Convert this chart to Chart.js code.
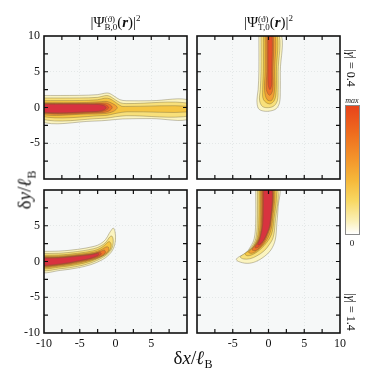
<!DOCTYPE html>
<html><head><meta charset="utf-8">
<script src="https://cdn.jsdelivr.net/npm/chart.js@4/dist/chart.umd.min.js"></script>
<style>
html,body{margin:0;padding:0;background:#fff;}
#wrap{position:relative;width:374px;height:374px;overflow:hidden;font-family:"Liberation Serif","DejaVu Serif",serif;color:#111;}
canvas{position:absolute;left:0;top:0;}
.t{position:absolute;white-space:nowrap;line-height:1;}
.st{display:inline-block;vertical-align:-3px;font-size:9px;line-height:8px;text-align:left;}
.st span{display:block;}
</style></head><body><div id="wrap">
<canvas id="c0" width="374" height="374" style="width:374px;height:374px"></canvas>
<canvas id="c1" width="374" height="374" style="width:374px;height:374px"></canvas>
<canvas id="c2" width="374" height="374" style="width:374px;height:374px"></canvas>
<canvas id="c3" width="374" height="374" style="width:374px;height:374px"></canvas>

<div class="t" style="left:44px;width:143px;top:14px;text-align:center;font-size:15px;">|Ψ<span class="st"><span>(ϑ)</span><span>B,0</span></span>(<b><i>r</i></b>)|<sup style="font-size:9px">2</sup></div>
<div class="t" style="left:197px;width:143px;top:14px;text-align:center;font-size:15px;">|Ψ<span class="st"><span>(ϑ)</span><span>T,0</span></span>(<b><i>r</i></b>)|<sup style="font-size:9px">2</sup></div>

<div class="t" style="left:193px;top:359px;transform:translate(-50%,-50%);font-size:19px;">δ<i>x</i>/<b><i>ℓ</i></b><sub style="font-size:12px">B</sub></div>
<div class="t" style="left:26px;top:190px;transform:translate(-50%,-50%) rotate(-90deg);font-size:19px;">δ<i>y</i>/<b><i>ℓ</i></b><sub style="font-size:12px">B</sub></div>

<div class="t" style="left:351px;top:68px;transform:translate(-50%,-50%) rotate(90deg);font-size:12px;">|<i>γ</i>| = 0.4</div>
<div class="t" style="left:351px;top:312px;transform:translate(-50%,-50%) rotate(90deg);font-size:12px;">|<i>γ</i>| = 1.4</div>

<div style="position:absolute;left:345px;top:105px;width:13px;height:128px;border:1px solid #8a8a8a;background:linear-gradient(to bottom,#e8431a 0%,#ee6a1e 20%,#f3922a 40%,#f6b83a 58%,#f8d862 74%,#fbf0b8 90%,#ffffff 100%);"></div>
<div class="t" style="left:352px;top:101px;transform:translate(-50%,-50%);font-size:8px;font-style:italic;">max</div>
<div class="t" style="left:352px;top:243px;transform:translate(-50%,-50%);font-size:9px;">0</div>
</div>
<script>
// ---- data ----
const axisRange = [-10, 10];
const majorTicks = [-10, -5, 0, 5, 10];
const minorTicks = [-7.5, -5, -2.5, 0, 2.5, 5, 7.5];
const levelColors = ['#fbf4c0', '#f8e07a', '#f5c542', '#f29f34', '#ed7428', '#e6502a', '#d8333f'];

// contour polygons [x, y] in units of l_B, outermost level first
const contoursTL = [
  [[-10.5,1.68],[-5,1.7],[-2.5,1.8],[-1.5,2.0],[-0.9,2.0],[-0.2,1.6],[0.6,1.1],[1.5,0.95],[5,0.95],[10.5,0.95],[10.5,-1.55],[5,-1.55],[1,-1.6],[-1,-1.78],[-3,-1.9],[-10.5,-1.9]],
  [[-10.5,1.33],[-5,1.34],[-2.5,1.42],[-1.5,1.65],[-0.9,1.62],[-0.2,1.2],[0.7,0.66],[1.5,0.55],[10.5,0.55],[10.5,-1.15],[1.5,-1.15],[0,-1.3],[-1.5,-1.5],[-10.5,-1.56]],
  [[-10.5,0.96],[-5,0.98],[-2.5,1.08],[-1.5,1.3],[-0.8,1.22],[-0.1,0.8],[0.8,0.2],[1.6,0.15],[10.5,0.15],[10.5,-0.6],[1.6,-0.6],[0.2,-0.8],[-1.5,-1.12],[-10.5,-1.2]],
  [[-10.5,0.68],[-4,0.7],[-2,0.82],[-1.2,0.85],[-0.4,0.55],[0.25,0.0],[-0.3,-0.55],[-1.5,-0.85],[-4,-0.92],[-10.5,-0.92]],
  [[-10.5,0.56],[-4,0.57],[-2,0.64],[-1.1,0.56],[-0.45,0.05],[-0.9,-0.48],[-2,-0.72],[-10.5,-0.76]],
  [[-10.5,0.51],[-3,0.5],[-1.6,0.46],[-0.95,0.0],[-1.5,-0.45],[-3,-0.64],[-10.5,-0.68]],
  [[-10.5,0.46],[-3,0.44],[-1.7,0.3],[-1.3,-0.05],[-1.8,-0.4],[-3,-0.58],[-10.5,-0.6]]
];
const contoursTR = [
  [[-1.35,10.5],[-1.35,5],[-1.45,2.5],[-1.62,1.0],[-1.4,-0.15],[-0.7,-0.5],[0.3,-0.48],[1.1,-0.15],[1.55,0.7],[1.65,2.5],[1.65,5],[1.65,10.5]],
  [[-1.05,10.5],[-1.05,5],[-1.15,2.5],[-1.25,1.0],[-0.85,0.15],[0,-0.02],[0.8,0.25],[1.25,1.0],[1.35,2.5],[1.35,5],[1.35,10.5]],
  [[-0.72,10.5],[-0.72,5],[-0.82,2.5],[-0.7,1.1],[0.15,0.5],[0.85,1.05],[1.08,2.5],[1.1,5],[1.1,10.5]],
  [[-0.47,10.5],[-0.47,5],[-0.55,2.4],[-0.2,1.1],[0.45,1.0],[0.82,2.2],[0.85,5],[0.85,10.5]],
  [[-0.23,10.5],[-0.23,5],[-0.3,2.5],[0.15,1.7],[0.58,2.4],[0.62,5],[0.62,10.5]],
  [[-0.08,10.5],[-0.08,5],[-0.05,3.2],[0.2,2.5],[0.45,3.2],[0.47,5],[0.47,10.5]]
];
const contoursBL = [
  [[-10.5,1.42],[-8,1.45],[-5.3,1.7],[-3,2.12],[-2.07,2.5],[-1.37,3.1],[-0.9,3.9],[-0.5,4.5],[-0.3,4.68],[-0.07,4.2],[0.0,3.0],[-0.3,1.8],[-0.9,0.95],[-1.84,0.25],[-3.47,-0.45],[-5.34,-0.9],[-7.67,-1.24],[-10.5,-1.4]],
  [[-10.5,1.12],[-8,1.15],[-5.3,1.4],[-3,1.8],[-2,2.2],[-1.3,2.75],[-0.8,3.45],[-0.5,3.55],[-0.32,3.0],[-0.45,1.95],[-0.95,1.2],[-1.85,0.52],[-3.45,-0.2],[-5.3,-0.68],[-7.6,-1.0],[-10.5,-1.12]],
  [[-10.5,0.88],[-8,0.9],[-5.3,1.15],[-3,1.52],[-2,1.92],[-1.35,2.45],[-0.9,2.78],[-0.62,2.45],[-0.7,1.75],[-1.15,1.2],[-2,0.65],[-3.4,0.05],[-5.3,-0.42],[-7.6,-0.76],[-10.5,-0.88]],
  [[-10.5,0.72],[-8,0.74],[-5.3,0.98],[-3,1.3],[-2,1.65],[-1.4,2.0],[-1.0,2.0],[-0.98,1.5],[-1.45,1.0],[-2.3,0.55],[-3.4,0.2],[-5.3,-0.26],[-7.6,-0.6],[-10.5,-0.72]],
  [[-10.5,0.6],[-8,0.62],[-5.3,0.86],[-3,1.15],[-2.1,1.42],[-1.55,1.58],[-1.42,1.22],[-2.0,0.76],[-3.3,0.32],[-5.3,-0.12],[-7.6,-0.48],[-10.5,-0.6]],
  [[-10.5,0.53],[-8,0.56],[-5.3,0.8],[-3.2,1.05],[-2.2,1.3],[-2.0,1.02],[-2.9,0.55],[-5.3,0.0],[-7.6,-0.4],[-10.5,-0.53]],
  [[-10.5,0.47],[-8,0.5],[-5.3,0.74],[-3.3,0.98],[-2.4,1.14],[-2.4,0.9],[-3.3,0.5],[-5.3,0.06],[-7.6,-0.33],[-10.5,-0.46]]
];
const contoursBR = [
  [[-1.8,10.5],[-1.8,5.3],[-2.0,3.2],[-2.5,2.1],[-3.2,1.15],[-4.1,0.68],[-4.5,0.3],[-4.2,0.0],[-3.0,-0.26],[-1.8,-0.02],[-0.6,0.68],[0.33,1.6],[0.94,3.0],[1.17,5.3],[1.36,7.7],[1.42,10.5]],
  [[-1.55,10.5],[-1.58,5.3],[-1.78,3.2],[-2.25,2.2],[-2.9,1.42],[-3.6,0.95],[-3.95,0.62],[-3.5,0.36],[-2.6,0.38],[-1.6,0.8],[-0.6,1.5],[0.1,2.35],[0.65,3.35],[0.92,5.3],[1.15,10.5]],
  [[-1.32,10.5],[-1.36,5.3],[-1.58,3.25],[-2.0,2.3],[-2.6,1.6],[-3.3,1.08],[-2.9,0.8],[-2.0,1.08],[-1.05,1.78],[-0.25,2.65],[0.38,3.7],[0.7,5.3],[0.92,10.5]],
  [[-1.12,10.5],[-1.16,5.3],[-1.4,3.35],[-1.82,2.45],[-2.4,1.72],[-2.8,1.3],[-2.3,1.15],[-1.45,1.65],[-0.55,2.55],[0.12,3.75],[0.5,5.3],[0.72,10.5]],
  [[-0.95,10.5],[-1.0,5.3],[-1.25,3.45],[-1.65,2.55],[-2.3,1.65],[-1.75,1.55],[-0.95,2.25],[-0.3,3.3],[0.32,5.3],[0.58,10.5]],
  [[-0.82,10.5],[-0.88,5.3],[-1.15,3.45],[-1.55,2.6],[-1.9,1.95],[-1.35,2.05],[-0.7,2.85],[-0.15,4.0],[0.26,5.3],[0.5,10.5]],
  [[-0.68,10.5],[-0.8,5.3],[-1.2,3.2],[-1.5,2.35],[-1.05,2.5],[-0.45,3.4],[0.2,5.3],[0.45,10.5]]
];

// visible tick labels per panel
const xLabelsBL = [-10, -5, 0, 5];
const xLabelsBR = [-5, 0, 5, 10];
const yLabelsTop = [-5, 0, 5, 10];
const yLabelsBottom = [-10, -5, 0, 5];

// ---- rendering ----
const panels = [
  {id:'c0', polys:contoursTL, area:[44,36,187,179], xl:[], yl:yLabelsTop},
  {id:'c1', polys:contoursTR, area:[197,36,340,179], xl:[], yl:[]},
  {id:'c2', polys:contoursBL, area:[44,190,187,333], xl:xLabelsBL, yl:yLabelsBottom},
  {id:'c3', polys:contoursBR, area:[197,190,340,333], xl:xLabelsBR, yl:[]}
];

const framePlugin = {
  id:'frame',
  beforeDraw(chart){
    const {ctx, chartArea:a} = chart;
    ctx.save(); ctx.fillStyle = '#f6f8f8';
    ctx.fillRect(a.left, a.top, a.right-a.left, a.bottom-a.top); ctx.restore();
  },
  afterDraw(chart){
    const {ctx, chartArea:a, scales:{x, y}} = chart;
    ctx.save(); ctx.strokeStyle = '#111'; ctx.lineWidth = 1.2; ctx.beginPath();
    minorTicks.forEach(v => {
      const px = x.getPixelForValue(v), py = y.getPixelForValue(v);
      ctx.moveTo(px, a.top); ctx.lineTo(px, a.top+4);
      ctx.moveTo(px, a.bottom); ctx.lineTo(px, a.bottom-4);
      ctx.moveTo(a.left, py); ctx.lineTo(a.left+4, py);
      ctx.moveTo(a.right, py); ctx.lineTo(a.right-4, py);
    });
    ctx.stroke();
    ctx.lineWidth = 1.6; ctx.strokeRect(a.left, a.top, a.right-a.left, a.bottom-a.top);
    ctx.restore();
  }
};

const YW = 30, XH = 20;
const tickFont = {family:'"Liberation Serif", serif', size:12};
const gridColor = c => (c.tick && Math.abs(c.tick.value) === 10) ? 'rgba(0,0,0,0)' : '#dfe3e3';

panels.forEach(p => {
  const [L, T, R, B] = p.area;
  const datasets = p.polys.map((poly, i) => ({
    data: poly.concat([poly[0]]).map(q => ({x:q[0], y:q[1]})),
    showLine: true, fill: 'shape',
    backgroundColor: levelColors[i],
    borderColor: 'rgba(95,85,55,0.5)', borderWidth: 0.7,
    pointRadius: 0, tension: 0.35, order: 20 - i, clip: 0
  }));
  new Chart(document.getElementById(p.id), {
    type: 'scatter',
    data: {datasets},
    plugins: [framePlugin],
    options: {
      responsive: false, animation: false, events: [],
      layout: {padding: {left: L - YW, top: T, right: 374 - R, bottom: 374 - B - XH}},
      plugins: {legend: {display: false}, tooltip: {enabled: false}},
      scales: {
        x: {
          type: 'linear', min: axisRange[0], max: axisRange[1],
          afterFit: s => { s.height = XH; },
          ticks: {stepSize: 5, padding: 4, autoSkip: false, maxRotation: 0, font: tickFont, color: '#111',
                  callback: v => p.xl.includes(v) ? String(v) : ''},
          grid: {drawTicks: false, color: gridColor, lineWidth: 0.8},
          border: {display: false, dash: [1, 2]}
        },
        y: {
          type: 'linear', min: axisRange[0], max: axisRange[1],
          afterFit: s => { s.width = YW; },
          ticks: {stepSize: 5, padding: 4, autoSkip: false, font: tickFont, color: '#111',
                  callback: v => p.yl.includes(v) ? String(v) : ''},
          grid: {drawTicks: false, color: gridColor, lineWidth: 0.8},
          border: {display: false, dash: [1, 2]}
        }
      }
    }
  });
});
</script>
</body></html>
